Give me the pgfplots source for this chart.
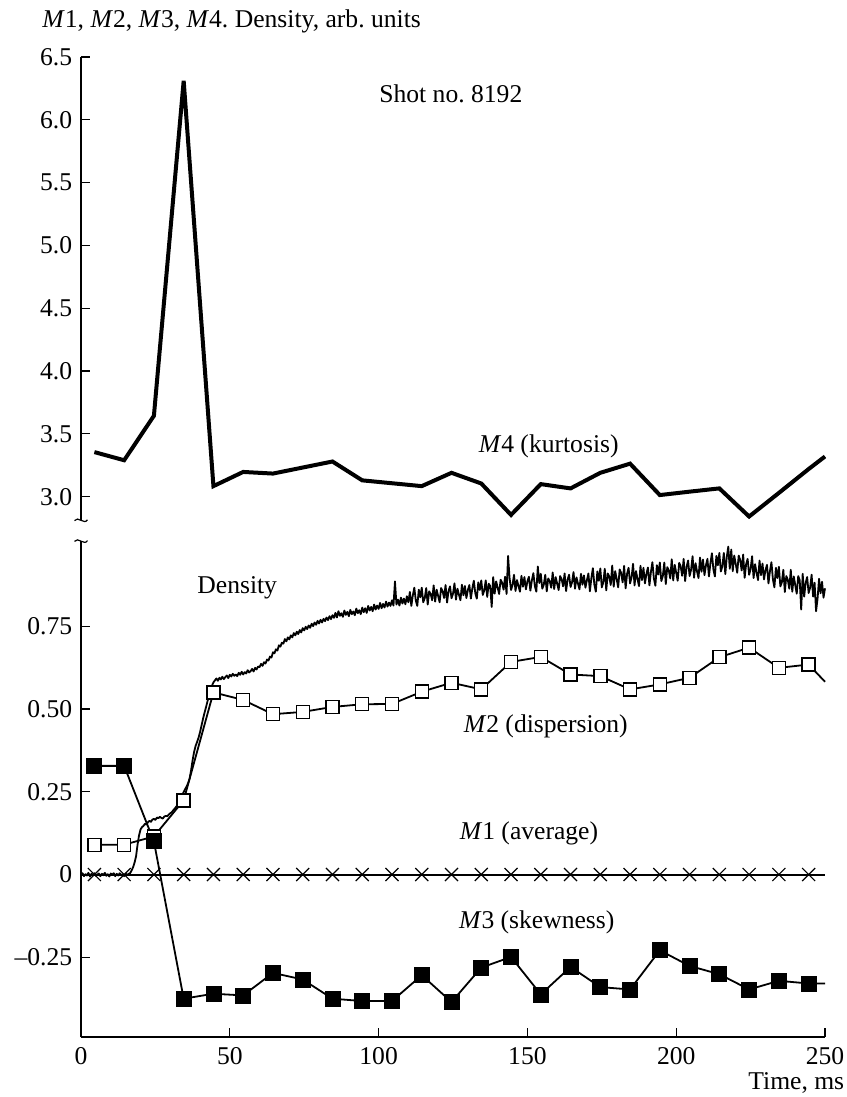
\documentclass[border=0pt]{standalone}
\usepackage{fontspec}
\setmainfont{Liberation Serif}
\usepackage{pgfplots}
\usepackage{pgfplotstable}
\pgfplotsset{compat=1.18}

% statistical moments of the fluctuations, one window every 10 ms
\pgfplotstableread{
t m4
4.5 3.355
14.5 3.29
24.5 3.644
34.5 6.31
44.5 3.084
54.5 3.197
64.5 3.184
74.5 3.232
84.5 3.28
94.5 3.13
104.5 3.107
114.5 3.084
124.5 3.19
134.5 3.105
144.5 2.855
154.5 3.10
164.5 3.066
174.5 3.19
184.5 3.263
194.5 3.013
204.5 3.04
214.5 3.066
224.5 2.842
234.5 3.03
244.5 3.22
250 3.32
}\kurt

\pgfplotstableread{
t m2
4.5 0.090
14.5 0.090
24.5 0.115
34.5 0.224
44.5 0.550
54.5 0.527
64.5 0.484
74.5 0.491
84.5 0.506
94.5 0.514
104.5 0.515
114.5 0.552
124.5 0.579
134.5 0.559
144.5 0.642
154.5 0.657
164.5 0.604
174.5 0.599
184.5 0.559
194.5 0.574
204.5 0.594
214.5 0.656
224.5 0.685
234.5 0.624
244.5 0.634
250 0.582
}\disp

\pgfplotstableread{
t m3
4.5 0.328
14.5 0.328
24.5 0.100
34.5 -0.375
44.5 -0.360
54.5 -0.365
64.5 -0.297
74.5 -0.317
84.5 -0.375
94.5 -0.382
104.5 -0.382
114.5 -0.304
124.5 -0.385
134.5 -0.281
144.5 -0.249
154.5 -0.362
164.5 -0.279
174.5 -0.340
184.5 -0.347
194.5 -0.229
204.5 -0.276
214.5 -0.301
224.5 -0.347
234.5 -0.321
244.5 -0.329
250 -0.329
}\skew

\pgfplotstableread{
t m1
4.5 0
14.5 0
24.5 0
34.5 0
44.5 0
54.5 0
64.5 0
74.5 0
84.5 0
94.5 0
104.5 0
114.5 0
124.5 0
134.5 0
144.5 0
154.5 0
164.5 0
174.5 0
184.5 0
194.5 0
204.5 0
214.5 0
224.5 0
234.5 0
244.5 0
}\avg

\begin{document}
\frenchspacing
\fontsize{12.8}{15}\selectfont
\begin{tikzpicture}
\useasboundingbox (-40.5pt,-30pt) rectangle (382.5pt,518.5pt);
\pgfplotsset{
  brk/.style={
    scale only axis, width=372pt, xmin=0, xmax=250,
    enlargelimits=false, clip=false,
    axis line style={line width=0.6pt, black},
    tick align=inside, major tick length=4.5pt,
    tick style={line width=0.6pt, black},
    yticklabel style={anchor=east, inner sep=0pt, xshift=-4.2pt},
    xticklabel style={anchor=north, inner sep=0pt, yshift=-4.85pt},
  }
}

% upper panel: kurtosis
\begin{axis}[brk, at={(0pt,258.5pt)}, height=231.5pt,
  ymin=2.8145, ymax=6.5,
  axis x line=none, axis y line*=left,
  ytick={3,3.5,4,4.5,5,5.5,6,6.5},
  yticklabels={3.0,3.5,4.0,4.5,5.0,5.5,6.0,6.5}]
\addplot[line width=2pt, black] table[x=t, y=m4] {\kurt};
\end{axis}

% lower panel: density and the first three moments
\begin{axis}[brk, at={(0pt,0pt)}, height=248pt,
  ymin=-0.4906, ymax=1.007,
  axis x line*=bottom, axis y line*=left,
  xtick={0,50,100,150,200,250},
  xticklabels={0,50,100,150,200,250},
  ytick={-0.25,0,0.25,0.5,0.75},
  yticklabels={--0.25,0,0.25,0.50,0.75}]

% line-averaged density
\addplot[line width=0.9pt, black, line join=round] coordinates {
(0,-0.002)(0.5,0.004)(1,-0.005)(1.5,0.001)(2,-0.003)(2.5,0.005)(3,-0.006)(3.5,0.002)(4,-0.001)(4.5,0.004)
(5,-0.004)(5.5,0)(6,0.003)(6.5,-0.005)(7,0.002)(7.5,-0.002)(8,0.005)(8.5,-0.004)(9,0.001)(9.5,-0.006)
(10,0.003)(10.5,-0.001)(11,0.004)(11.5,-0.005)(12,0.002)(12.5,-0.003)(13,0.004)(13.5,-0.002)(14,0.001)(14.5,-0.005)
(15,0.003)(15.5,-0.002)(16,0.002)(16.5,0.004)
(17,0.012)(17.5,0.022)(18,0.036)(18.5,0.055)(19,0.090)(19.5,0.118)(20,0.136)(20.5,0.143)(21,0.147)(21.5,0.153)
(22,0.151)(22.5,0.158)(23,0.162)(23.5,0.159)(24,0.166)(24.5,0.168)(25,0.165)(25.5,0.172)(26,0.170)(26.5,0.174)
(27,0.171)(27.5,0.169)(28,0.175)(28.5,0.177)(29,0.176)(29.5,0.181)(30,0.185)(30.5,0.188)(31,0.194)(31.5,0.199)
(32,0.205)(32.5,0.211)(33,0.219)(33.5,0.228)(34,0.240)(34.5,0.249)(35,0.258)(35.5,0.266)(36,0.276)(36.5,0.290)
(37,0.315)(37.5,0.345)(38,0.370)(38.5,0.388)(39,0.400)(39.5,0.413)(40,0.430)(40.5,0.450)(41,0.470)(41.5,0.488)
(42,0.505)(42.5,0.523)(43,0.540)(43.5,0.556)(44,0.570)(44.5,0.580)(45,0.586)
(45.5,0.592)(46,0.585)(46.5,0.594)(47,0.589)(47.5,0.597)(48,0.590)(48.5,0.596)(49,0.601)(49.5,0.593)(50,0.603)
(50.5,0.598)(51,0.606)(51.5,0.600)(52,0.604)(52.5,0.599)(53,0.609)(53.5,0.603)(54,0.612)(54.5,0.604)(55,0.611)
(55.5,0.607)(56,0.617)(56.5,0.610)(57,0.614)(57.5,0.621)(58,0.613)(58.5,0.624)(59,0.619)(59.5,0.628)(60,0.626)
(60.5,0.636)(61,0.630)(61.5,0.641)(62,0.637)(62.5,0.649)(63,0.646)(63.5,0.658)(64,0.655)(64.5,0.671)(65,0.668)
(65.5,0.680)(66,0.676)(66.5,0.692)(67,0.688)(67.5,0.700)(68,0.697)(68.5,0.711)(69,0.704)(69.5,0.716)(70,0.710)
(70.5,0.722)(71,0.716)(71.5,0.729)(72,0.722)(72.5,0.733)(73,0.726)(73.5,0.738)(74,0.731)(74.5,0.744)(75,0.737)
(75.5,0.748)(76,0.741)(76.5,0.752)(77,0.745)(77.5,0.757)(78,0.750)(78.5,0.761)(79,0.754)(79.5,0.766)(80,0.758)
(80.5,0.769)(81,0.761)(81.5,0.772)(82,0.765)(82.5,0.776)(83,0.768)(83.5,0.780)(84,0.771)(84.5,0.783)(85,0.775)
(85.5,0.790)(86,0.776)(86.5,0.795)(87,0.781)(87.5,0.789)(88,0.778)(88.5,0.797)(89,0.784)(89.5,0.793)(90,0.780)
(90.5,0.799)(91,0.786)(91.5,0.794)(92,0.783)(92.5,0.803)(93,0.789)(93.5,0.798)(94,0.786)(94.5,0.806)(95,0.792)
(95.5,0.804)(96,0.790)(96.5,0.811)(97,0.797)(97.5,0.808)(98,0.795)(98.5,0.815)(99,0.800)(99.5,0.812)(100,0.802)
(100.5,0.820)(101,0.804)(101.5,0.817)(102,0.806)(102.5,0.824)(103,0.809)(103.5,0.821)(104,0.811)(104.5,0.828)(105,0.812)
(105.5,0.885)(106,0.815)(106.5,0.830)(107,0.812)(107.5,0.836)(108,0.818)(108.5,0.833)(109,0.816)(109.5,0.840)(110,0.822)
(110.5,0.853)(111,0.811)(111.5,0.843)(112,0.866)(112.5,0.827)(113,0.811)(113.5,0.860)(114,0.837)(114.5,0.866)(115,0.822)
(115.5,0.834)(116,0.865)(116.5,0.815)(117,0.855)(117.5,0.847)(118,0.828)(118.5,0.873)(119,0.824)(119.5,0.860)(120,0.841)
(120.5,0.822)(121,0.865)(121.5,0.856)(122,0.835)(122.5,0.874)(123,0.821)(123.5,0.856)(124,0.870)(124.5,0.834)(125,0.848)
(125.5,0.879)(126,0.830)(126.5,0.863)(127,0.845)(127.5,0.828)(128,0.875)(128.5,0.843)(129,0.871)(129.5,0.835)(130,0.859)
(130.5,0.874)(131,0.833)(131.5,0.864)(132,0.887)(132.5,0.849)(133,0.833)(133.5,0.882)(134,0.859)(134.5,0.888)(135,0.844)
(135.5,0.857)(136,0.888)(136.5,0.838)(137,0.878)(137.5,0.871)(138,0.808)(138.5,0.898)(139,0.848)(139.5,0.885)(140,0.866)
(140.5,0.847)(141,0.890)(141.5,0.881)(142,0.860)(142.5,0.899)(143,0.847)(143.5,0.962)(144,0.896)(144.5,0.859)(145,0.874)
(145.5,0.905)(146,0.856)(146.5,0.889)(147,0.871)(147.5,0.854)(148,0.902)(148.5,0.869)(149,0.898)(149.5,0.861)(150,0.885)
(150.5,0.899)(151,0.857)(151.5,0.888)(152,0.910)(152.5,0.871)(153,0.854)(153.5,0.930)(154,0.880)(154.5,0.908)(155,0.863)
(155.5,0.875)(156,0.905)(156.5,0.855)(157,0.894)(157.5,0.886)(158,0.866)(158.5,0.912)(159,0.862)(159.5,0.898)(160,0.878)
(160.5,0.859)(161,0.901)(161.5,0.892)(162,0.870)(162.5,0.909)(163,0.856)(163.5,0.890)(164,0.905)(164.5,0.868)(165,0.882)
(165.5,0.913)(166,0.863)(166.5,0.897)(167,0.878)(167.5,0.861)(168,0.908)(168.5,0.875)(169,0.903)(169.5,0.866)(170,0.889)
(170.5,0.909)(171,0.855)(171.5,0.895)(172,0.925)(172.5,0.875)(173,0.854)(173.5,0.915)(174,0.887)(174.5,0.924)(175,0.867)
(175.5,0.882)(176,0.923)(176.5,0.858)(177,0.909)(177.5,0.900)(178,0.874)(178.5,0.933)(179,0.869)(179.5,0.916)(180,0.892)
(180.5,0.867)(181,0.921)(181.5,0.911)(182,0.882)(182.5,0.932)(183,0.864)(183.5,0.908)(184,0.926)(184.5,0.879)(185,0.897)
(185.5,0.938)(186,0.873)(186.5,0.916)(187,0.892)(187.5,0.871)(188,0.932)(188.5,0.889)(189,0.926)(189.5,0.879)(190,0.908)
(190.5,0.927)(191,0.873)(191.5,0.913)(192,0.943)(192.5,0.894)(193,0.872)(193.5,0.934)(194,0.906)(194.5,0.942)(195,0.886)
(195.5,0.901)(196,0.942)(196.5,0.877)(197,0.928)(197.5,0.919)(198,0.894)(198.5,0.952)(199,0.888)(199.5,0.935)(200,0.911)
(200.5,0.887)(201,0.941)(201.5,0.931)(202,0.902)(202.5,0.953)(203,0.886)(203.5,0.929)(204,0.948)(204.5,0.901)(205,0.920)
(205.5,0.961)(206,0.896)(206.5,0.940)(207,0.915)(207.5,0.895)(208,0.957)(208.5,0.914)(209,0.951)(209.5,0.904)(210,0.934)
(210.5,0.953)(211,0.900)(211.5,0.940)(212,0.970)(212.5,0.921)(213,0.900)(213.5,0.962)(214,0.934)(214.5,0.971)(215,0.915)
(215.5,0.930)(216,0.971)(216.5,0.907)(217,0.959)(217.5,0.990)(218,0.923)(218.5,0.981)(219,0.916)(219.5,0.963)(220,0.938)
(220.5,0.911)(221,0.963)(221.5,0.950)(222,0.918)(222.5,0.966)(223,0.896)(223.5,0.937)(224,0.953)(224.5,0.905)(225,0.922)
(225.5,0.961)(226,0.895)(226.5,0.937)(227,0.911)(227.5,0.889)(228,0.948)(228.5,0.904)(229,0.939)(229.5,0.891)(230,0.919)
(230.5,0.935)(231,0.879)(231.5,0.916)(232,0.943)(232.5,0.891)(233,0.867)(233.5,0.926)(234,0.895)(234.5,0.929)(235,0.870)
(235.5,0.882)(236,0.920)(236.5,0.853)(237,0.901)(237.5,0.890)(238,0.863)(238.5,0.920)(239,0.854)(239.5,0.900)(240,0.874)
(240.5,0.848)(241,0.901)(241.5,0.889)(242,0.800)(242.5,0.908)(243,0.839)(243.5,0.881)(244,0.898)(244.5,0.850)(245,0.866)
(245.5,0.905)(246,0.839)(246.5,0.881)(247,0.795)(247.5,0.833)(248,0.893)(248.5,0.849)(249,0.884)(249.5,0.836)(250,0.864)
};

% M1 (average): zero line with crosses
\addplot[line width=1pt, black] coordinates {(0,0) (250,0)};
\addplot[only marks, mark=x, mark size=4.6pt, mark options={line width=0.6pt, black}]
  table[x=t, y=m1] {\avg};

% M2 (dispersion)
\addplot[line width=0.9pt, black] table[x=t, y=m2] {\disp};
\addplot[only marks, mark=square*, mark size=3.25pt,
  mark options={fill=white, draw=black, line width=0.7pt},
  skip coords between index={25}{26}] table[x=t, y=m2] {\disp};

% M3 (skewness)
\addplot[line width=0.9pt, black] table[x=t, y=m3] {\skew};
\addplot[only marks, mark=square*, mark size=3.75pt,
  mark options={fill=black, draw=black},
  skip coords between index={25}{26}] table[x=t, y=m3] {\skew};
\end{axis}

% axis break marks
\draw[line width=0.6pt] (-3.25pt,258.2pt) .. controls (-1.6pt,260.8pt) and (1.6pt,255.8pt) .. (3.25pt,258.6pt);
\draw[line width=0.6pt] (-3.25pt,247.8pt) .. controls (-1.6pt,250.4pt) and (1.6pt,245.4pt) .. (3.25pt,248.2pt);

% labels
\node[anchor=base west, inner sep=0pt] at (-19.5pt,504.5pt)
  {\textit{M}1, \textit{M}2, \textit{M}3, \textit{M}4. Density, arb. units};
\node[anchor=base west, inner sep=0pt] at (149pt,467.2pt) {Shot no. 8192};
\node[anchor=base west, inner sep=0pt] at (198.7pt,292.2pt) {\textit{M}4 (kurtosis)};
\node[anchor=base west, inner sep=0pt] at (58pt,221.9pt) {Density};
\node[anchor=base west, inner sep=0pt] at (191.2pt,152.2pt) {\textit{M}2 (dispersion)};
\node[anchor=base west, inner sep=0pt] at (189.2pt,98.9pt) {\textit{M}1 (average)};
\node[anchor=base west, inner sep=0pt] at (188.8pt,54.4pt) {\textit{M}3 (skewness)};
\node[anchor=base east, inner sep=0pt] at (381.8pt,-26.5pt) {Time, ms};
\end{tikzpicture}
\end{document}
